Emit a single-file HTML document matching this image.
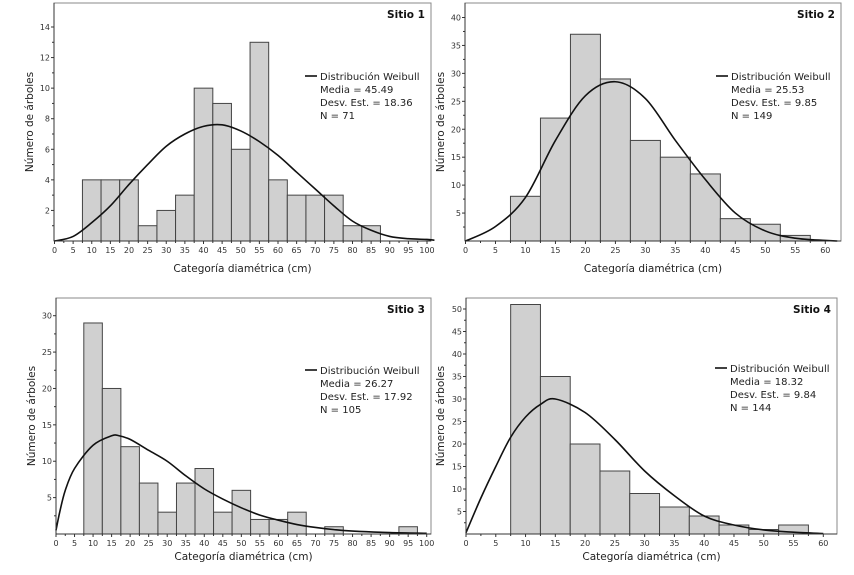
<!DOCTYPE html>
<html><head><meta charset="utf-8">
<style>
html,body{margin:0;padding:0;background:#fff;}
svg{display:block;font-family:"DejaVu Sans","Liberation Sans",sans-serif;}
</style></head>
<body>
<svg id="fig" width="854" height="575" viewBox="0 0 854 575" xmlns="http://www.w3.org/2000/svg"></svg>
<script>
// Site 1
const s1Bins = [10,15,20,25,30,35,40,45,50,55,60,65,70,75,80,85];
const s1Counts = [4,4,4,1,2,3,10,9,6,13,4,3,3,3,1,1];
const s1CurveX = [0,5,10,15,20,25,30,35,40,45,50,55,60,65,70,75,80,85,90,95,100,102];
const s1CurveY = [0,0.3,1.2,2.3,3.7,5.0,6.2,7.0,7.5,7.6,7.2,6.5,5.6,4.5,3.4,2.3,1.3,0.7,0.3,0.15,0.1,0.05];
const s1XTicks = [0,5,10,15,20,25,30,35,40,45,50,55,60,65,70,75,80,85,90,95,100];
const s1YTicks = [2,4,6,8,10,12,14];
// Site 2
const s2Bins = [10,15,20,25,30,35,40,45,50,55];
const s2Counts = [8,22,37,29,18,15,12,4,3,1];
const s2CurveX = [0,5,10,15,20,25,30,35,40,45,50,55,60,62];
const s2CurveY = [0,2.6,7.8,18,26,28.5,25.5,18,11,5,1.8,0.5,0.1,0];
const s2XTicks = [0,5,10,15,20,25,30,35,40,45,50,55,60];
const s2YTicks = [5,10,15,20,25,30,35,40];
// Site 3
const s3Bins = [10,15,20,25,30,35,40,45,50,55,60,65,70,75,80,85,90,95];
const s3Counts = [29,20,12,7,3,7,9,3,6,2,2,3,0,1,0,0,0,1];
const s3CurveX = [0,1,2.5,5,10,15,17,20,25,30,35,40,45,50,55,60,65,70,75,80,90,100];
const s3CurveY = [0.5,3,6,9,12.2,13.5,13.5,13,11.5,10,8,6.2,4.8,3.6,2.6,1.9,1.3,0.9,0.6,0.4,0.2,0.1];
const s3XTicks = [0,5,10,15,20,25,30,35,40,45,50,55,60,65,70,75,80,85,90,95,100];
const s3YTicks = [5,10,15,20,25,30];
// Site 4
const s4Bins = [10,15,20,25,30,35,40,45,50,55];
const s4Counts = [51,35,20,14,9,6,4,2,1,2];
const s4CurveX = [0,2.5,5,7.5,10,12.5,15,20,25,30,35,40,45,50,55,60];
const s4CurveY = [0.3,8,15,21.5,26,28.8,30,27,21,14,8.5,4,2,0.9,0.4,0.1];
const s4XTicks = [0,5,10,15,20,25,30,35,40,45,50,55,60];
const s4YTicks = [5,10,15,20,25,30,35,40,45,50];

const NS="http://www.w3.org/2000/svg";
const svg=document.getElementById('fig');
function mk(tag,attrs,parent){const e=document.createElementNS(NS,tag);for(const k in attrs)e.setAttribute(k,attrs[k]);(parent||svg).appendChild(e);return e;}

function panel(o){
  const g=mk('g',{});
  
  
  const xs=v=>o.x0+(v-0)*(o.x1px-o.x0)/o.xRef;
  const ys=v=>o.y0-v*(o.y0-o.yRefPx)/o.yRef;
  const fr=mk('rect',{x:o.L,y:o.T,width:o.R-o.L,height:o.y0-o.T,fill:'#fff',stroke:'#888','stroke-width':1},g);
  
  
  o.bins.forEach((b,i)=>{
    if(o.counts[i]<=0)return;
    const r=mk('rect',{x:xs(b-2.5),y:ys(o.counts[i]),width:xs(b+2.5)-xs(b-2.5),height:o.y0-ys(o.counts[i]),fill:'#d0d0d0',stroke:'#444','stroke-width':1},g);
    
    
  });
  const pts=o.cx.map((v,i)=>[xs(v),ys(o.cy[i])]);
  let d='M'+pts[0][0]+','+pts[0][1];
  for(let i=0;i<pts.length-1;i++){
    const p0=pts[i-1]||pts[i],p1=pts[i],p2=pts[i+1],p3=pts[i+2]||p2;
    d+=' C'+(p1[0]+(p2[0]-p0[0])/6)+','+(p1[1]+(p2[1]-p0[1])/6)+' '+(p2[0]-(p3[0]-p1[0])/6)+','+(p2[1]-(p3[1]-p1[1])/6)+' '+p2[0]+','+p2[1];
  }
  const c=mk('path',{d:d,fill:'none',stroke:'#111','stroke-width':1.6},g);
  
  
  mk('line',{x1:o.L,y1:o.y0,x2:o.R,y2:o.y0,stroke:'#333','stroke-width':1},g);
  mk('line',{x1:o.L,y1:o.T,x2:o.L,y2:o.y0,stroke:'#333','stroke-width':1},g);
  o.xt.forEach((t,i)=>{
    mk('line',{x1:xs(t),y1:o.y0,x2:xs(t),y2:o.y0+3,stroke:'#333'},g);
    if(i<o.xt.length-1)mk('line',{x1:xs(t+2.5),y1:o.y0,x2:xs(t+2.5),y2:o.y0+2,stroke:'#333'},g);
    const tx=mk('text',{x:xs(t),y:o.y0+12,'font-size':8,'text-anchor':'middle',fill:'#333'},g);
    tx.textContent=t;
    
    
  });
  const step=o.yt[1]-o.yt[0];
  o.yt.forEach(t=>{
    mk('line',{x1:o.L-3,y1:ys(t),x2:o.L,y2:ys(t),stroke:'#333'},g);
    mk('line',{x1:o.L-2,y1:ys(t-step/2),x2:o.L,y2:ys(t-step/2),stroke:'#333'},g);
    const tx=mk('text',{x:o.L-4,y:ys(t)+3,'font-size':8,'text-anchor':'end',fill:'#333'},g);
    tx.textContent=t;
    
    
  });
  const xt=mk('text',{x:(o.L+o.R)/2,y:o.xtY,'font-size':10.5,'text-anchor':'middle',fill:'#222'},g);
  xt.textContent='Categoría diamétrica (cm)';
  
  
  const yt=mk('text',{x:0,y:0,'font-size':10.5,'text-anchor':'middle',fill:'#222',transform:'translate('+o.ytX+','+((o.T+o.y0)/2)+') rotate(-90)'},g);
  yt.textContent='Número de árboles';
  
  
  const ti=mk('text',{x:o.R-6,y:o.T+15,'font-size':10.5,'font-weight':'bold','text-anchor':'end',fill:'#111'},g);
  ti.textContent=o.title;
  
  
  const lg=mk('g',{},g);
  
  
  mk('line',{x1:o.lx,y1:o.ly,x2:o.lx+12,y2:o.ly,stroke:'#111','stroke-width':1.6},lg);
  o.leg.forEach((s,i)=>{
    const t=mk('text',{x:o.lx+15,y:o.ly+4+i*13,'font-size':10,fill:'#222'},lg);
    t.textContent=s;
    
    
  });
}

panel({name:'panel-sitio-1',title:'Sitio 1',L:54,R:431,T:3,y0:241,x0:54.5,x1px:427,xRef:100,yRef:14,yRefPx:27,
  bins:s1Bins,counts:s1Counts,cx:s1CurveX,cy:s1CurveY,xt:s1XTicks,yt:s1YTicks,xtY:272,ytX:33,lx:305,ly:76,
  leg:['Distribución Weibull','Media = 45.49','Desv. Est. = 18.36','N = 71']});
panel({name:'panel-sitio-2',title:'Sitio 2',L:465,R:841,T:3,y0:241,x0:465.5,x1px:825.3,xRef:60,yRef:40,yRefPx:17.5,
  bins:s2Bins,counts:s2Counts,cx:s2CurveX,cy:s2CurveY,xt:s2XTicks,yt:s2YTicks,xtY:272,ytX:444,lx:716,ly:76,
  leg:['Distribución Weibull','Media = 25.53','Desv. Est. = 9.85','N = 149']});
panel({name:'panel-sitio-3',title:'Sitio 3',L:56,R:431,T:298,y0:534,x0:56,x1px:426.7,xRef:100,yRef:30,yRefPx:315.7,
  bins:s3Bins,counts:s3Counts,cx:s3CurveX,cy:s3CurveY,xt:s3XTicks,yt:s3YTicks,xtY:560,ytX:35,lx:305,ly:370,
  leg:['Distribución Weibull','Media = 26.27','Desv. Est. = 17.92','N = 105']});
panel({name:'panel-sitio-4',title:'Sitio 4',L:466,R:837,T:298,y0:534,x0:466,x1px:823.3,xRef:60,yRef:50,yRefPx:309,
  bins:s4Bins,counts:s4Counts,cx:s4CurveX,cy:s4CurveY,xt:s4XTicks,yt:s4YTicks,xtY:560,ytX:444,lx:715,ly:368,
  leg:['Distribución Weibull','Media = 18.32','Desv. Est. = 9.84','N = 144']});
</script>
</body></html>
